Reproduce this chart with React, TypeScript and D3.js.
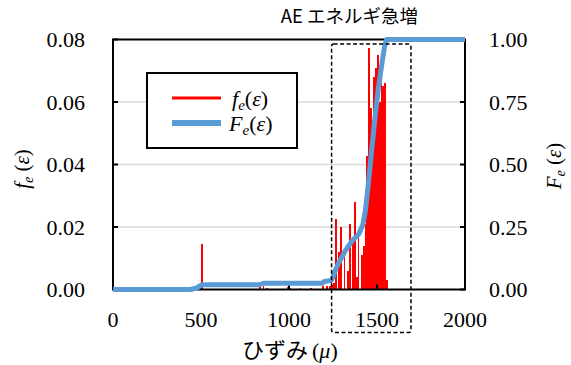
import React from "react";
import * as d3 from "d3";

// ---- data ----
const xTicks = [0, 500, 1000, 1500, 2000];
const fTicks = [0, 0.02, 0.04, 0.06, 0.08];
const FTicks = [0, 0.25, 0.5, 0.75, 1.0];
const fTickLabels = ["0.00", "0.02", "0.04", "0.06", "0.08"];
const FTickLabels = ["0.00", "0.25", "0.50", "0.75", "1.00"];

// histogram bins (strain, 10 µ wide) and their frequency f_e
const binStart = [
  500, 830, 850, 870, 990, 1000, 1060, 1120, 1190, 1210, 1230, 1240,
  1250, 1260, 1280, 1290, 1310, 1330, 1340, 1360, 1370,
  1380, 1390, 1410, 1420, 1430, 1440, 1450, 1460, 1470, 1480, 1490, 1500,
  1510, 1520, 1530, 1540, 1550,
];
const fValues = [
  0.0145, 0.0008, 0.001, 0.0006, 0.0008, 0.0006, 0.0005, 0.0004, 0.001, 0.001, 0.0012, 0.0015,
  0.002, 0.0227, 0.012, 0.02, 0.011, 0.006, 0.021, 0.0166, 0.028,
  0.004, 0.0195, 0.011, 0.014, 0.021, 0.0427, 0.0773, 0.058, 0.052, 0.068, 0.071, 0.0749,
  0.06, 0.066, 0.065, 0.066, 0.003,
];
const binWidth = 10;

// cumulative F_e
const cdfStrain = [
  0, 440, 475, 505, 830, 855, 1190, 1200, 1240, 1250, 1265, 1285, 1320, 1360, 1395,
  1420, 1435, 1452, 1470, 1489, 1507, 1527, 1545, 1555, 2000,
];
const cdfValues = [
  0, 0, 0.006, 0.019, 0.019, 0.025, 0.025, 0.032, 0.036, 0.05, 0.08, 0.11, 0.155, 0.196, 0.22,
  0.26, 0.32, 0.43, 0.56, 0.69, 0.8, 0.9, 0.98, 1.0, 1.0,
];

// annotation box (strain range)
const surgeRange = [1242, 1693];

const W = 571;
const H = 365;
const L = 113;
const R = 465;
const T = 39.5;
const B = 289.5;

const serif = "Liberation Serif, serif";
const cjk = "Noto Sans CJK JP, sans-serif";

const serifStyle = { fontFamily: serif };
const cjkStyle = { fontFamily: cjk };

export default function App() {
  const x = d3.scaleLinear().domain([0, 2000]).range([L, R]);
  const yf = d3.scaleLinear().domain([0, 0.08]).range([B, T]);
  const yF = d3.scaleLinear().domain([0, 1]).range([B, T]);

  const line = d3
    .line<number>()
    .x((_, i) => x(cdfStrain[i]))
    .y((d) => yF(d));

  const bw = x(binWidth) - x(0);

  return (
    <svg
      width={W}
      height={H}
      style={{ position: "absolute", left: 0, top: 0, background: "#fff" }}
    >
      <rect x={0} y={0} width={W} height={H} fill="#fff" />
      {/* gridlines */}
      {fTicks.slice(1, 4).map((t) => (
        <line key={t} x1={L} x2={R} y1={yf(t)} y2={yf(t)} stroke="#d9d9d9" strokeWidth={1.5} />
      ))}
      {/* bars */}
      <g shapeRendering="crispEdges">
        {binStart.map((b, i) => (
          <rect
            key={i}
            x={x(b)}
            y={yf(fValues[i])}
            width={i === 0 ? 2 : bw}
            height={B - yf(fValues[i])}
            fill="#ff0000"
          />
        ))}
      </g>
      {/* frame */}
      <rect x={L} y={T} width={R - L} height={B - T} fill="none" stroke="#000" strokeWidth={2} />
      {/* ticks */}
      {fTicks.map((t) => (
        <line key={"lt" + t} x1={L} x2={L + 5} y1={yf(t)} y2={yf(t)} stroke="#000" strokeWidth={2} />
      ))}
      {FTicks.map((t) => (
        <line key={"rt" + t} x1={R - 5} x2={R} y1={yF(t)} y2={yF(t)} stroke="#000" strokeWidth={2} />
      ))}
      {xTicks.map((t) => (
        <line key={"bt" + t} x1={x(t)} x2={x(t)} y1={B} y2={B - 5} stroke="#000" strokeWidth={2} />
      ))}
      {/* CDF line */}
      <path d={line(cdfValues) || ""} fill="none" stroke="#5b9bd5" strokeWidth={5} strokeLinejoin="round" />
      {/* dashed annotation box */}
      <rect
        x={x(surgeRange[0])}
        y={44}
        width={x(surgeRange[1]) - x(surgeRange[0])}
        height={288.5}
        rx={2}
        fill="none"
        stroke="#000"
        strokeWidth={1.5}
        strokeDasharray="4 2.5"
      />
      {/* tick labels */}
      {fTicks.map((t, i) => (
        <text key={"ll" + t} x={85} y={yf(t)} dy="0.35em" textAnchor="end" style={serifStyle} fontSize={22}>
          {fTickLabels[i]}
        </text>
      ))}
      {FTicks.map((t, i) => (
        <text key={"rl" + t} x={489} y={yF(t)} dy="0.35em" textAnchor="start" style={serifStyle} fontSize={22}>
          {FTickLabels[i]}
        </text>
      ))}
      {xTicks.map((t) => (
        <text key={"xl" + t} x={x(t)} y={327} textAnchor="middle" style={serifStyle} fontSize={22}>
          {t}
        </text>
      ))}
      {/* axis titles */}
      <text x={242} y={358} style={cjkStyle} fontSize={22}>
        ひずみ
        <tspan style={serifStyle} fontSize={22} dx={4}>(</tspan>
        <tspan style={serifStyle} fontSize={22} fontStyle="italic">μ</tspan>
        <tspan style={serifStyle} fontSize={22}>)</tspan>
      </text>
      <text transform={`translate(29,169) rotate(-90)`} textAnchor="middle" style={serifStyle} fontSize={21}>
        <tspan fontStyle="italic">f</tspan>
        <tspan fontStyle="italic" fontSize={14} dy={4}>e</tspan>
        <tspan dy={-4}> (</tspan>
        <tspan fontStyle="italic">ε</tspan>
        <tspan>)</tspan>
      </text>
      <text transform={`translate(561,166) rotate(-90)`} textAnchor="middle" style={serifStyle} fontSize={21}>
        <tspan fontStyle="italic">F</tspan>
        <tspan fontStyle="italic" fontSize={14} dy={4}>e</tspan>
        <tspan dy={-4}> (</tspan>
        <tspan fontStyle="italic">ε</tspan>
        <tspan>)</tspan>
      </text>
      {/* title */}
      <text x={418} y={23} textAnchor="end" style={cjkStyle} fontSize={18.5}>
        AE エネルギ急増
      </text>
      {/* legend */}
      <rect x={147} y={73} width={150} height={75} fill="#fff" stroke="#000" strokeWidth={2} />
      <line x1={172} x2={221} y1={98} y2={98} stroke="#ff0000" strokeWidth={3} />
      <line x1={172} x2={221} y1={123} y2={123} stroke="#5b9bd5" strokeWidth={6} />
      <text x={232} y={106} style={serifStyle} fontSize={22}>
        <tspan fontStyle="italic">f</tspan>
        <tspan fontStyle="italic" fontSize={15} dy={4}>e</tspan>
        <tspan dy={-4}>(</tspan>
        <tspan fontStyle="italic">ε</tspan>
        <tspan>)</tspan>
      </text>
      <text x={229} y={131} style={serifStyle} fontSize={22}>
        <tspan fontStyle="italic">F</tspan>
        <tspan fontStyle="italic" fontSize={15} dy={4}>e</tspan>
        <tspan dy={-4}>(</tspan>
        <tspan fontStyle="italic">ε</tspan>
        <tspan>)</tspan>
      </text>
    </svg>
  );
}
